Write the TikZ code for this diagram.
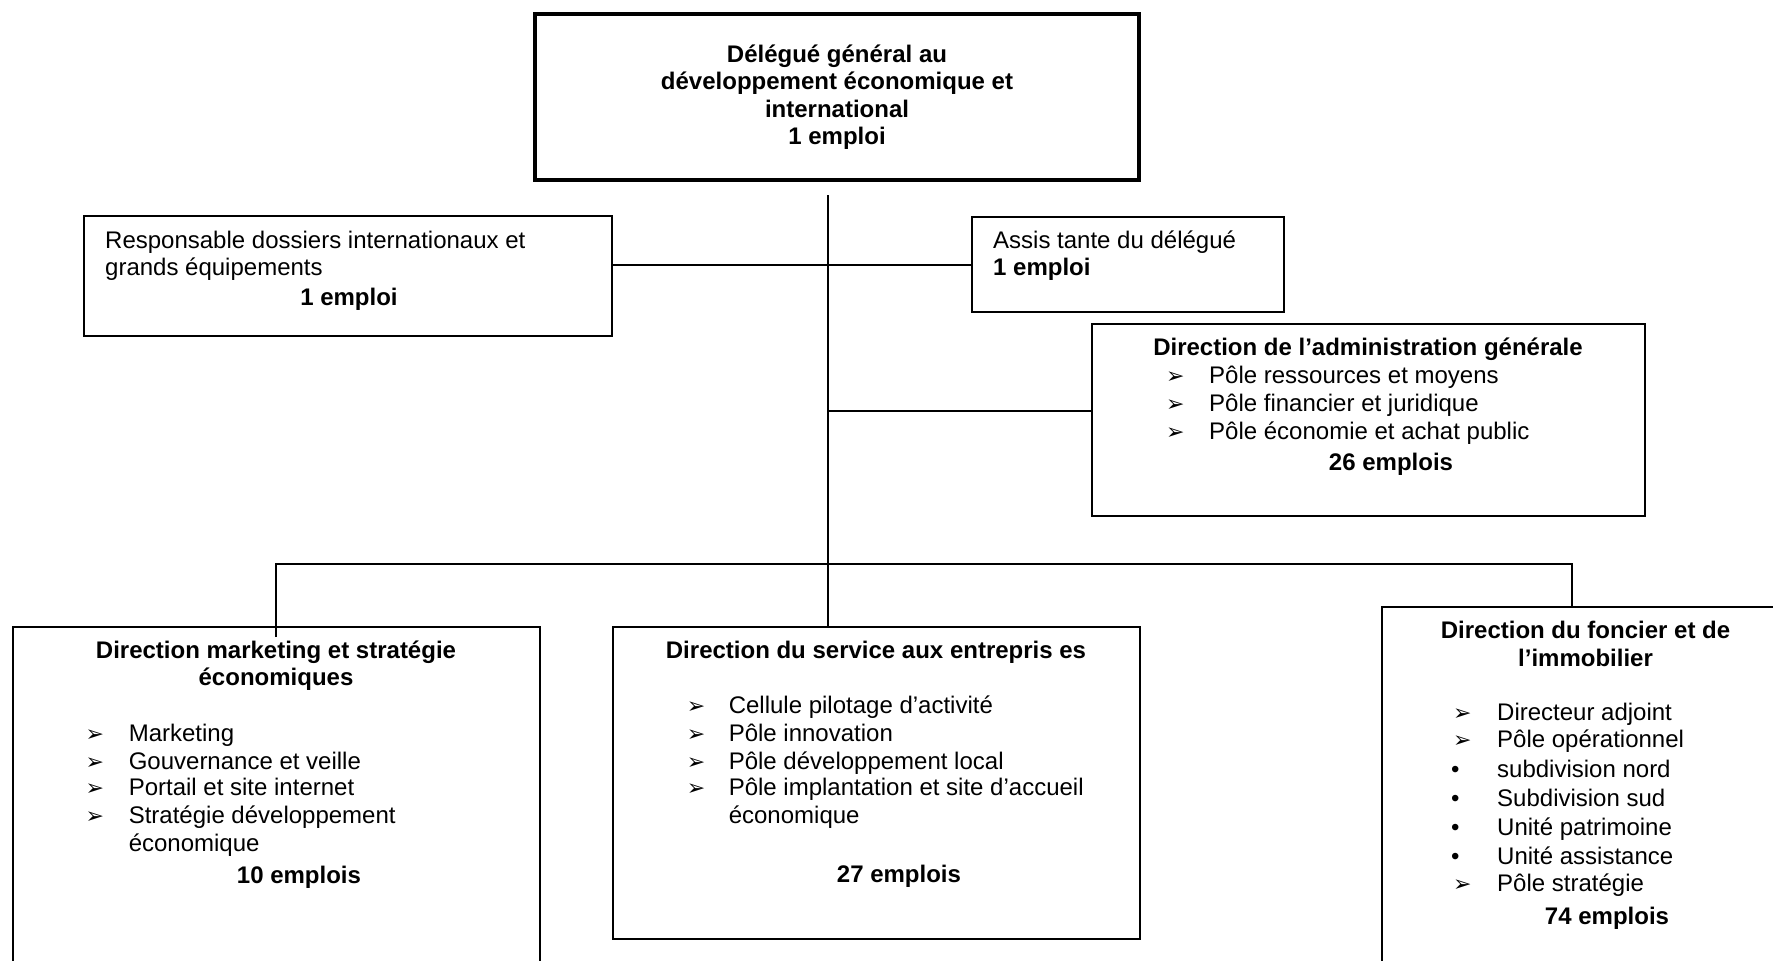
\documentclass[tikz,border=0pt]{standalone}
\usepackage{fontspec}
\setmainfont{Liberation Sans}
\newfontfamily\symfont{DejaVu Sans}
\begin{document}
\begin{tikzpicture}[x=1pt,y=-1pt,
  box/.style={draw,line width=2pt,inner sep=0pt,outer sep=0pt,anchor=north west},
  topbox/.style={box,line width=4pt},
  conn/.style={line width=2pt},
  txt/.style={inner sep=0pt,yshift=-6pt,font=\fontsize{24}{27.6}\selectfont},
  lt/.style={txt,anchor=mid west},
  ct/.style={txt,anchor=mid},
  bt/.style={txt,anchor=mid,font=\fontsize{24}{27.6}\selectfont\bfseries},
  blt/.style={txt,anchor=mid west,font=\fontsize{24}{27.6}\selectfont\bfseries},
  arr/.style={inner sep=0pt,yshift=-6pt,anchor=mid west,font=\symfont\fontsize{22}{22}\selectfont},
  bul/.style={txt,anchor=mid west}
]
\useasboundingbox (0,0) rectangle (1773,961);
\clip (0,0) rectangle (1773,961);

% boxes
\node[topbox,minimum width=604pt,minimum height=166pt] (top) at (535,14) {};
\node[box,minimum width=528pt,minimum height=120pt] (resp) at (84,216) {};
\node[box,minimum width=312pt,minimum height=95pt] (assist) at (972,217) {};
\node[box,minimum width=553pt,minimum height=192pt] (dag) at (1092,324) {};
\node[box,minimum width=527.5pt,minimum height=373pt] (left) at (12.5,627) {};
\node[box,minimum width=527.5pt,minimum height=312pt] (mid) at (612.5,627) {};
\node[box,minimum width=418pt,minimum height=393pt] (right) at (1382,607) {};

% connectors
\coordinate (ttop) at (828,195);
\coordinate (dagj) at (828,411);
\coordinate (bj) at (828,564);
\coordinate (rj) at (1572,564);
\draw[conn] (ttop) -- (ttop |- mid.north);
\draw[conn] (resp.east |- assist.west) -- (assist.west);
\draw[conn] (dagj) -- (dagj -| dag.west);
\draw[conn] ([yshift=-10pt]left.north) -- (left.north |- bj) -- (rj) -- (rj |- right.north);

% top box text
\node[bt] (h1) at (837,53.5) {Délégué général au};
\node[bt] (h2) at (837,81) {développement économique et};
\node[bt] (h3) at (837,108.5) {international};
\node[bt] (h4) at (837,135.5) {1 emploi};

% responsable
\node[lt] (r1) at (105,240) {Responsable dossiers internationaux et};
\node[lt] (r2) at (105,267) {grands équipements};
\node[bt] (r3) at (349,297) {1 emploi};

% assistante
\node[lt] (a1) at (993,240) {Assis tante du délégué};
\node[blt] (a2) at (993,267) {1 emploi};

% direction administration generale
\node[bt] (d0) at (1368,347) {Direction de l’administration générale};
\foreach \y/\t [count=\i] in {375/Pôle ressources et moyens,403/Pôle financier et juridique,431/Pôle économie et achat public}{
  \node[arr] (db\i) at (1166,\y) {➢};
  \node[lt] (dt\i) at (1209,\y) {\t};
}
\node[bt] (d4) at (1391,462) {26 emplois};

% left box
\node[bt] (l0) at (276,650) {Direction marketing et stratégie};
\node[bt] (l1) at (276,677) {économiques};
\foreach \y/\t [count=\i] in {733/Marketing,761/Gouvernance et veille,787/Portail et site internet,815/Stratégie développement}{
  \node[arr] (lb\i) at (85.5,\y) {➢};
  \node[lt] (lt\i) at (128.6,\y) {\t};
}
\node[lt] (lt5) at (128.6,843) {économique};
\node[bt] (l6) at (299,875) {10 emplois};

% middle box
\node[bt] (m0) at (876,650) {Direction du service aux entrepris es};
\foreach \y/\t [count=\i] in {705/Cellule pilotage d’activité,733/Pôle innovation,761/Pôle développement local,787/Pôle implantation et site d’accueil}{
  \node[arr] (mb\i) at (686.6,\y) {➢};
  \node[lt] (mt\i) at (728.6,\y) {\t};
}
\node[lt] (mt5) at (728.6,815) {économique};
\node[bt] (m6) at (899,874) {27 emplois};

% right box
\node[bt] (f0) at (1585.5,630) {Direction du foncier et de};
\node[bt] (f1) at (1585.5,658) {l’immobilier};
\node[arr] (fb1) at (1453,712) {➢};
\node[arr] (fb2) at (1453,739) {➢};
\node[bul] (fb3) at (1451,769) {•};
\node[bul] (fb4) at (1451,798) {•};
\node[bul] (fb5) at (1451,827) {•};
\node[bul] (fb6) at (1451,856) {•};
\node[arr] (fb7) at (1453,883) {➢};
\foreach \y/\t [count=\i] in {712/Directeur adjoint,739/Pôle opérationnel,769/subdivision nord,798/Subdivision sud,827/Unité patrimoine,856/Unité assistance,883/Pôle stratégie}{
  \node[lt] (ft\i) at (1497,\y) {\t};
}
\node[bt] (f8) at (1607,916) {74 emplois};
\end{tikzpicture}
\end{document}
